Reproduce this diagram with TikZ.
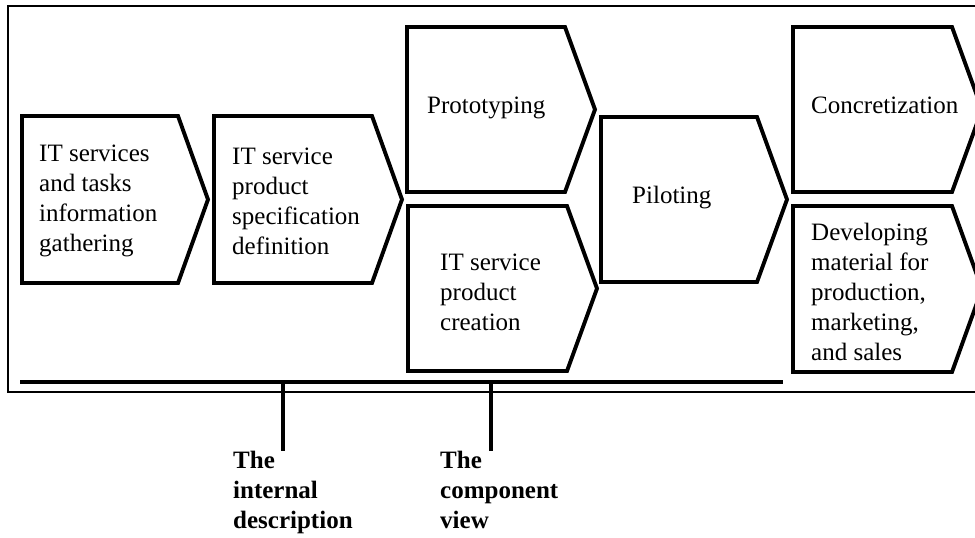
\documentclass[tikz,border=0pt]{standalone}
\usepackage{fontspec}
\setmainfont{Liberation Serif}
\usetikzlibrary{calc}

\tikzset{
  stagebody/.style={rectangle, inner sep=0pt, outer sep=0pt},
  stageline/.style={draw=black, line width=3.9pt, line join=miter},
  stagetext/.style={anchor=west, align=left, inner sep=0pt,
    font=\fontsize{25}{30}\selectfont},
  viewlabel/.style={anchor=north west, align=left, inner sep=0pt,
    font=\bfseries\fontsize{25}{30}\selectfont},
  frameline/.style={draw=black, line width=1.8pt},
  barline/.style={draw=black, line width=4.5pt},
  tapline/.style={draw=black, line width=3.5pt},
}

% #1 name, #2 left, #3 top, #4 right edge of the body, #5 bottom
\newcommand\stagechev[5]{%
  \node[stagebody, minimum width={#4-#2}, minimum height={#5-#3}]
    (#1) at ({(#2+#4)/2},{(#3+#5)/2}) {};
  \draw[stageline] (#1.north west) -- (#1.north east)
    -- ($(#1.east)+(30,0)$) -- (#1.south east) -- (#1.south west) -- cycle;
}

\begin{document}
\begin{tikzpicture}[x=1pt, y=-1pt]
  \clip (0,0) rectangle (975,538);

  % outer frame, running past the right border
  \draw[frameline] (8,6) rectangle (1010,392);

  % process stages
  \stagechev{gather}{22}{116}{178}{283}
  \stagechev{spec}{214}{116}{372}{283}
  \stagechev{proto}{407}{27}{565}{192}
  \stagechev{create}{408}{206}{567}{371}
  \stagechev{pilot}{601}{117}{757}{282}
  \stagechev{concr}{793}{27}{952}{192}
  \stagechev{develop}{793}{206}{952}{372}

  \node[stagetext] (gatherT) at (39,201) {IT services\\and tasks\\information\\gathering};
  \node[stagetext] (specT) at (232,201) {IT service\\product\\specification\\definition};
  \node[stagetext] (protoT) at (427,108) {Prototyping};
  \node[stagetext] (createT) at (440,292) {IT service\\product\\creation};
  \node[stagetext] (pilotT) at (632,198) {Piloting};
  \node[stagetext] (concrT) at (811,105) {Concretization};
  \node[stagetext] (developT) at (811,292) {Developing\\material for\\production,\\marketing,\\and sales};

  % base bar with the two view markers
  \coordinate (barL) at (20,382);
  \coordinate (barR) at (783,382);
  \coordinate (tapInt) at (283,382);
  \coordinate (tapComp) at (491,382);
  \draw[barline] (barL) -- (barR);

  \node[viewlabel] (lblInt) at (233,451) {The\\internal\\description};
  \node[viewlabel] (lblComp) at (440,451) {The\\component\\view};

  \draw[tapline] (tapInt) -- (tapInt |- lblInt.north);
  \draw[tapline] (tapComp) -- (tapComp |- lblComp.north);
\end{tikzpicture}
\end{document}
